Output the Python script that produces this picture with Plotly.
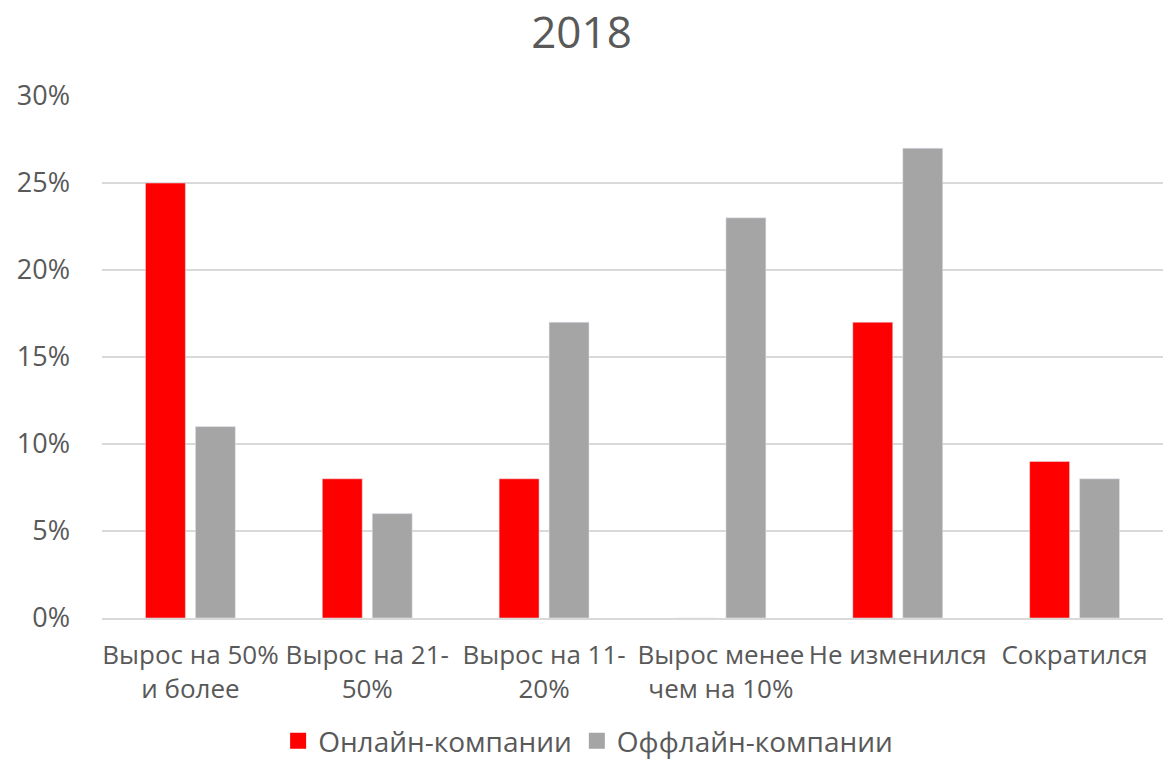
import plotly.graph_objects as go

categories = ["Вырос на 50%<br>и более", "Вырос на 21-<br>50%", "Вырос на 11-<br>20%",
              "Вырос менее<br>чем на 10%", "Не изменился", "Сократился"]
online = [0.25, 0.08, 0.08, 0.0, 0.17, 0.09]
offline = [0.11, 0.06, 0.17, 0.23, 0.27, 0.08]
y_ticks = [0, 0.05, 0.10, 0.15, 0.20, 0.25, 0.30]
series_names = ["Онлайн-компании", "Оффлайн-компании"]
series_colors = ["#ff0000", "#a5a5a5"]

font_family = "Open Sans, Noto Sans, sans-serif"
text_color = "#595959"

fig = go.Figure()
for name, values, color in zip(series_names, [online, offline], series_colors):
    fig.add_trace(go.Bar(name=name, x=categories, y=values, marker_color=color,
                         showlegend=False))
# legend entries with larger square swatches
for name, color in zip(series_names, series_colors):
    fig.add_trace(go.Scatter(name=name, x=[None], y=[None], mode="markers",
                             marker=dict(symbol="square", size=18, color=color)))

fig.update_layout(
    width=1163,
    height=766,
    barmode="group",
    bargap=0.435,
    bargroupgap=0.2,
    plot_bgcolor="white",
    paper_bgcolor="white",
    font=dict(family=font_family, color=text_color, size=26),
    title=dict(text="2018", x=0.5, xanchor="center", y=0.958, yanchor="middle",
               font=dict(size=44, color=text_color)),
    margin=dict(l=102, r=0, t=96, b=148, autoexpand=False),
    legend=dict(orientation="h", x=0.166, xanchor="left", y=-0.2835, yanchor="bottom",
                font=dict(size=28), itemsizing="trace", traceorder="normal",
                itemwidth=30),
    showlegend=True,
)

fig.update_yaxes(
    range=[0, 0.30],
    tickvals=y_ticks,
    tickformat=".0%",
    showgrid=True,
    gridcolor="#d9d9d9",
    gridwidth=1.5,
    zeroline=False,
    ticks="",
    tickfont=dict(size=27),
    ticklabelstandoff=31,
    automargin=False,
)
fig.update_xaxes(
    showline=True,
    linecolor="#d9d9d9",
    linewidth=1.5,
    ticks="",
    ticklabelstandoff=13,
    tickangle=0,
    automargin=False,
)

fig.write_html("out.html", config={"displayModeBar": False},
               post_script="document.body.style.margin='0';")
